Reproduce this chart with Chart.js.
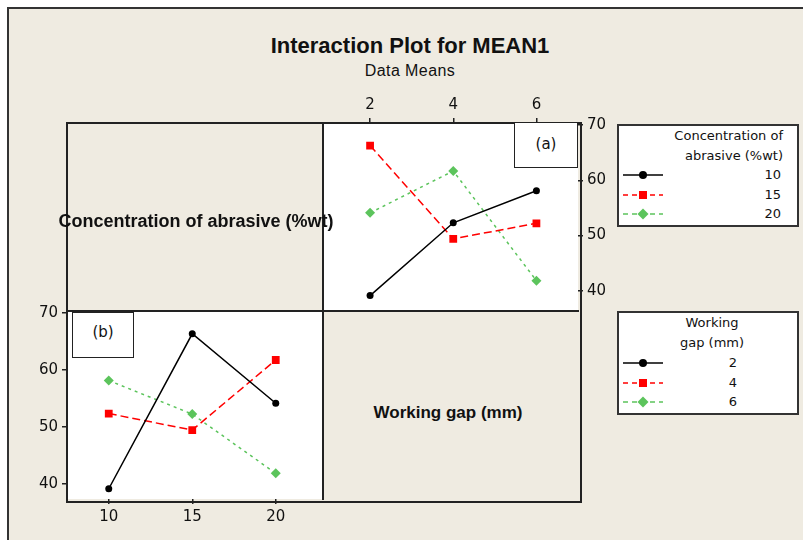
<!DOCTYPE html>
<html>
<head>
<meta charset="utf-8">
<title>Interaction Plot for MEAN1</title>
<script src="https://cdn.jsdelivr.net/npm/chart.js@4.4.0/dist/chart.umd.min.js"></script>
<style>
  body { margin: 0; width: 803px; height: 540px; background: #fff; position: relative; overflow: hidden;
         font-family: "Liberation Sans", Arial, sans-serif; color: #111; }
  .abs { position: absolute; }
  #frame { left: 7px; top: 7px; width: 820px; height: 560px; background: #efebe1;
           border-left: 2px solid #333; border-top: 2px solid #333; }
  #title { left: 0; width: 820px; top: 33px; text-align: center; font-weight: bold; font-size: 22px; }
  #subtitle { left: 0; width: 820px; top: 62px; text-align: center; font-size: 16px; letter-spacing: 0.4px; }
  .white { background: #fff; }
  .diag { font-weight: bold; font-size: 18px; white-space: nowrap; text-align: center; }
  .tag { box-sizing: border-box; border: 1.5px solid #222; background: #fff; font-family: "DejaVu Sans", sans-serif;
         font-size: 15px; text-align: center; }
  .legend { box-sizing: border-box; border: 2px solid #333; background: #fff;
            font-family: "DejaVu Sans", sans-serif; font-size: 13px; }
  .legend div { position: absolute; white-space: nowrap; }
  canvas { position: absolute; }
</style>
</head>
<body>
<div id="frame" class="abs"></div>
<div id="title" class="abs">Interaction Plot for MEAN1</div>
<div id="subtitle" class="abs">Data Means</div>

<!-- panel matrix -->
<div class="abs white" style="left:323px;top:123px;width:255px;height:188px;"></div>
<div class="abs white" style="left:67px;top:311px;width:256px;height:188px;"></div>
<div class="abs" style="left:66px;top:122px;width:512px;height:377px;border:2px solid #222;"></div>
<div class="abs" style="left:322px;top:123px;width:2px;height:377px;background:#222;"></div>
<div class="abs" style="left:67px;top:310px;width:512px;height:2px;background:#222;"></div>

<canvas id="chartA" width="300" height="221" style="left:323px;top:90px;"></canvas>
<canvas id="chartB" width="301" height="245" style="left:22px;top:290px;"></canvas>

<div class="abs diag" style="left:30px;width:332px;top:211px;">Concentration of abrasive (%wt)</div>
<div class="abs diag" style="left:323px;width:250px;top:403px;font-size:17px;">Working gap (mm)</div>

<div class="abs tag" style="left:514px;top:122px;width:64px;height:46px;line-height:42px;">(a)</div>
<div class="abs tag" style="left:72px;top:312px;width:62px;height:46px;line-height:38px;">(b)</div>

<div id="legendA" class="abs legend" style="left:617px;top:124px;width:182px;height:103px;"></div>
<div id="legendB" class="abs legend" style="left:617px;top:311px;width:182px;height:104px;"></div>

<script>
// factor levels
const concLevels = [10, 15, 20];
const gapLevels = [2, 4, 6];
// mean response per concentration, by working gap 2 / 4 / 6
const meanConc10 = [39.1, 52.3, 58.1];
const meanConc15 = [66.3, 49.4, 52.2];
const meanConc20 = [54.1, 61.7, 41.8];
const yTickValues = [40, 50, 60, 70];

const meanRows = [meanConc10, meanConc15, meanConc20];

// one look per level: black solid / red dashed / green dotted
const styles = [
  { color: '#000000', dash: [], point: 'circle', radius: 3.5 },
  { color: '#ff0000', dash: [8, 4], point: 'rect', radius: 5.5 },
  { color: '#5cc45c', dash: [3, 4], point: 'rectRot', radius: 5 }
];

function makeDataset(label, xs, ys, st) {
  return {
    label: label,
    data: xs.map((x, i) => ({ x: x, y: ys[i] })),
    borderColor: st.color,
    backgroundColor: st.color,
    borderWidth: 1.5,
    borderDash: st.dash,
    pointStyle: st.point,
    pointRadius: st.radius,
    pointBorderWidth: 0,
    tension: 0
  };
}

const tickFont = { family: 'DejaVu Sans', size: 15 };

function axis(position, min, max, ticks, size) {
  const horizontal = position === 'top' || position === 'bottom';
  return {
    type: 'linear',
    position: position,
    min: min,
    max: max,
    afterBuildTicks: s => { s.ticks = ticks.map(v => ({ value: v })); },
    afterFit: s => {
      if (horizontal) { s.height = size; s.paddingLeft = 0; s.paddingRight = 0; }
      else { s.width = size; s.paddingTop = 0; s.paddingBottom = 0; }
    },
    ticks: { color: '#111', font: tickFont, padding: 4 },
    grid: { drawOnChartArea: false, drawTicks: true, tickLength: 5, color: '#222', lineWidth: 1.5 },
    border: { display: false }
  };
}

function baseOptions(scales, padTop) {
  return {
    responsive: false,
    animation: false,
    devicePixelRatio: 1,
    layout: { padding: { top: padTop, left: 0, right: 0, bottom: 0 } },
    plugins: { legend: { display: false }, tooltip: { enabled: false } },
    scales: scales
  };
}

// (a) response vs working gap, one line per concentration
new Chart(document.getElementById('chartA'), {
  type: 'line',
  data: {
    datasets: concLevels.map((c, i) => makeDataset(String(c), gapLevels, meanRows[i], styles[i]))
  },
  options: baseOptions({
    x: axis('top', 1, 7, gapLevels, 33),
    y: axis('right', 37.3, 70.4, yTickValues, 45)
  }, 0)
});

// (b) response vs concentration, one line per working gap
new Chart(document.getElementById('chartB'), {
  type: 'line',
  data: {
    datasets: gapLevels.map((g, j) => makeDataset(String(g), concLevels, meanRows.map(r => r[j]), styles[j]))
  },
  options: baseOptions({
    x: axis('bottom', 7.5, 22.5, concLevels, 36),
    y: axis('left', 37.3, 70.3, yTickValues, 45)
  }, 21)
});

// legend sample: short line with the marker in the middle
function sampleSvg(st) {
  const c = st.color, d = st.dash.length ? '5,4' : 'none';
  let mark;
  if (st.point === 'circle') mark = `<circle cx="20" cy="6" r="4" fill="${c}"/>`;
  else if (st.point === 'rect') mark = `<rect x="16" y="2" width="8" height="8" fill="${c}"/>`;
  else mark = `<polygon points="20,0.5 25.5,6 20,11.5 14.5,6" fill="${c}"/>`;
  return `<svg width="42" height="12"><line x1="0" y1="6" x2="40" y2="6" stroke="${c}" stroke-width="1.5" stroke-dasharray="${d}"/>${mark}</svg>`;
}

function fillLegend(el, titleLines, titleStyle, labels, labelRight, rowTop) {
  let html = '';
  titleLines.forEach((t, i) => {
    html += `<div style="${titleStyle}top:${2 + i * 20}px;">${t}</div>`;
  });
  labels.forEach((l, i) => {
    html += `<div style="left:4px;top:${rowTop + i * 19.5}px;">${sampleSvg(styles[i])}</div>`;
    html += `<div style="right:${labelRight}px;top:${rowTop - 2 + i * 19.5}px;">${l}</div>`;
  });
  el.innerHTML = html;
}

fillLegend(document.getElementById('legendA'), ['Concentration of', 'abrasive (%wt)'], 'right:14px;',
  concLevels, 16, 43);
fillLegend(document.getElementById('legendB'), ['Working', 'gap (mm)'], 'left:40px;width:106px;text-align:center;',
  gapLevels, 60, 44);
</script>
</body>
</html>
